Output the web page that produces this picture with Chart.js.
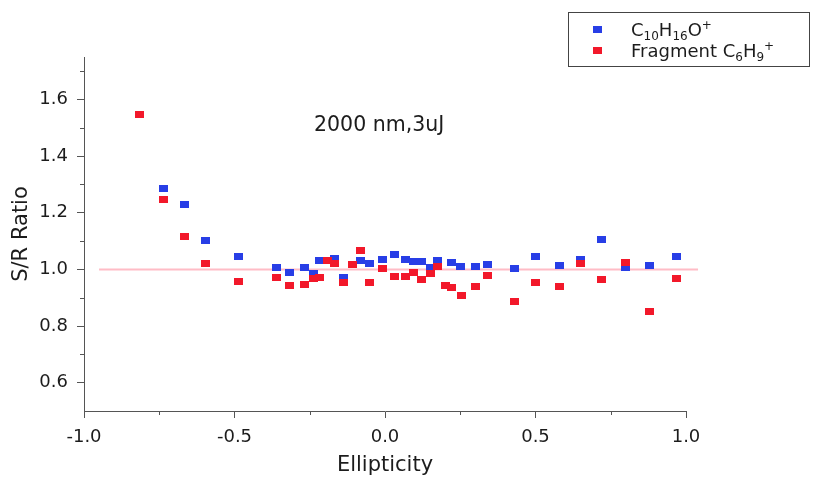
<!DOCTYPE html>
<html>
<head>
<meta charset="utf-8">
<script src="https://cdn.jsdelivr.net/npm/chart.js@4.4.0/dist/chart.umd.min.js"></script>
<style>
  body { margin: 0; background: #fff; font-family: "DejaVu Sans", sans-serif; color: #1c1c1c; }
  #wrap { position: relative; width: 814px; height: 479px; }
  #legend { position: absolute; left: 568px; top: 12px; width: 242px; height: 55px;
            border: 1.5px solid #444; box-sizing: border-box; font-size: 18px; }
  .mk { position: absolute; left: 24px; width: 9px; height: 7px; }
  .txt { position: absolute; left: 62px; white-space: nowrap; line-height: 20px; }
  sub, sup { font-size: 12px; position: relative; vertical-align: baseline; }
  sub { top: 0.3em; }
  sup { top: -0.6em; }
  #note { position: absolute; left: 314px; top: 112px; font-size: 20.5px; white-space: nowrap; }
</style>
</head>
<body>
<div id="wrap">
  <canvas id="myChart" width="814" height="479"></canvas>
  <div id="legend">
    <span class="mk" id="mkBlue" style="top:13px"></span>
    <span class="txt" style="top:7px">C<sub>10</sub>H<sub>16</sub>O<sup>+</sup></span>
    <span class="mk" id="mkRed" style="top:34px"></span>
    <span class="txt" style="top:28px">Fragment C<sub>6</sub>H<sub>9</sub><sup>+</sup></span>
  </div>
  <div id="note">2000 nm,3uJ</div>
</div>
<script>
// C10H16O+ (blue)
const xBlue = [-0.735, -0.666, -0.597, -0.486, -0.36, -0.318, -0.267, -0.239, -0.217, -0.167,
               -0.138, -0.08, -0.05, -0.008, 0.033, 0.067, 0.094, 0.122, 0.15, 0.176,
               0.22, 0.25, 0.302, 0.341, 0.43, 0.5, 0.581, 0.65, 0.72, 0.8, 0.88, 0.97];
const yBlue = [1.286, 1.23, 1.103, 1.046, 1.006, 0.99, 1.006, 0.985, 1.03, 1.039,
               0.973, 1.032, 1.02, 1.035, 1.053, 1.035, 1.027, 1.027, 1.006, 1.03,
               1.024, 1.012, 1.012, 1.018, 1.002, 1.044, 1.014, 1.035, 1.104, 1.006, 1.014, 1.047];

// Fragment C6H9+ (red)
const xRed = [-0.817, -0.735, -0.666, -0.597, -0.486, -0.36, -0.318, -0.267, -0.239, -0.217,
              -0.19, -0.167, -0.138, -0.108, -0.083, -0.052, -0.008, 0.033, 0.067, 0.094,
              0.122, 0.15, 0.176, 0.2, 0.222, 0.253, 0.302, 0.341, 0.43, 0.5,
              0.581, 0.65, 0.72, 0.8, 0.88, 0.97];
const yRed = [1.546, 1.246, 1.115, 1.022, 0.959, 0.973, 0.944, 0.947, 0.967, 0.97,
              1.03, 1.02, 0.953, 1.018, 1.065, 0.955, 1.002, 0.976, 0.976, 0.988,
              0.965, 0.985, 1.01, 0.944, 0.935, 0.909, 0.941, 0.979, 0.888, 0.953,
              0.941, 1.02, 0.965, 1.026, 0.852, 0.967];

// reference line at ratio 1
const refX = [-0.95, 1.04];
const refY = [1.0, 1.0];

const xTicks = [-1, -0.5, 0, 0.5, 1];
const xMinor = [-0.75, -0.25, 0.25, 0.75];
const yTicks = [0.6, 0.8, 1.0, 1.2, 1.4, 1.6];
const yMinor = [0.7, 0.9, 1.1, 1.3, 1.5, 1.7];

const blue = 'rgb(40,62,230)';
const red = 'rgb(242,24,42)';
const axisColor = '#555';
const textColor = '#1c1c1c';

document.getElementById('mkBlue').style.background = blue;
document.getElementById('mkRed').style.background = red;

function pts(xs, ys) {
    return xs.map((x, i) => ({ x: x, y: ys[i] }));
}

// small flat rectangle marker like the original
function marker(color) {
    const c = document.createElement('canvas');
    c.width = 9;
    c.height = 7;
    const g = c.getContext('2d');
    g.fillStyle = color;
    g.fillRect(0, 0, 9, 7);
    return c;
}

// minor tick marks between the labelled ones
const minorTicks = {
    id: 'minorTicks',
    afterDraw(chart) {
        const { ctx, scales: { x, y } } = chart;
        ctx.save();
        ctx.strokeStyle = axisColor;
        ctx.lineWidth = 1;
        xMinor.forEach(v => {
            const px = Math.round(x.getPixelForValue(v)) + 0.5;
            ctx.beginPath();
            ctx.moveTo(px, x.top);
            ctx.lineTo(px, x.top + 4);
            ctx.stroke();
        });
        yMinor.forEach(v => {
            const py = Math.round(y.getPixelForValue(v)) + 0.5;
            ctx.beginPath();
            ctx.moveTo(y.right, py);
            ctx.lineTo(y.right - 4, py);
            ctx.stroke();
        });
        ctx.restore();
    }
};

const tickFont = { family: 'DejaVu Sans', size: 18 };
const titleFont = { family: 'DejaVu Sans', size: 21 };

const config = {
    type: 'scatter',
    data: {
        datasets: [
            {
                label: 'Fragment C6H9+',
                data: pts(xRed, yRed),
                pointStyle: marker(red),
                backgroundColor: red,
                borderColor: red
            },
            {
                label: 'C10H16O+',
                data: pts(xBlue, yBlue),
                pointStyle: marker(blue),
                backgroundColor: blue,
                borderColor: blue
            },
            {
                type: 'line',
                label: 'ref',
                data: pts(refX, refY),
                borderColor: 'rgb(255,188,198)',
                borderWidth: 2,
                pointRadius: 0,
                clip: false
            }
        ]
    },
    options: {
        responsive: false,
        animation: false,
        events: [],
        layout: { padding: { top: 57, right: 128, left: 0, bottom: 0 } },
        plugins: {
            legend: { display: false },
            tooltip: { enabled: false }
        },
        scales: {
            x: {
                type: 'linear',
                min: -1,
                max: 1,
                afterBuildTicks: s => { s.ticks = xTicks.map(v => ({ value: v })); },
                afterFit: s => { s.height = 68; },
                ticks: {
                    callback: v => v.toFixed(1),
                    font: tickFont,
                    color: textColor,
                    padding: 9,
                    maxRotation: 0,
                    autoSkip: false
                },
                grid: { drawOnChartArea: false, tickLength: 7, color: axisColor },
                border: { color: axisColor, width: 1 },
                title: {
                    display: true,
                    text: 'Ellipticity',
                    font: titleFont,
                    color: textColor,
                    padding: { top: 0, bottom: 1 }
                }
            },
            y: {
                type: 'linear',
                min: 0.5,
                max: 1.75,
                afterBuildTicks: s => { s.ticks = yTicks.map(v => ({ value: v })); },
                afterFit: s => { s.width = 84; },
                ticks: {
                    callback: v => v.toFixed(1),
                    font: tickFont,
                    color: textColor,
                    padding: 9
                },
                grid: { drawOnChartArea: false, tickLength: 7, color: axisColor },
                border: { color: axisColor, width: 1 },
                title: {
                    display: true,
                    text: 'S/R Ratio',
                    font: titleFont,
                    color: textColor,
                    padding: { top: 9, bottom: 0 }
                }
            }
        }
    },
    plugins: [minorTicks]
};

const myChart = new Chart(document.getElementById('myChart'), config);
</script>
</body>
</html>
